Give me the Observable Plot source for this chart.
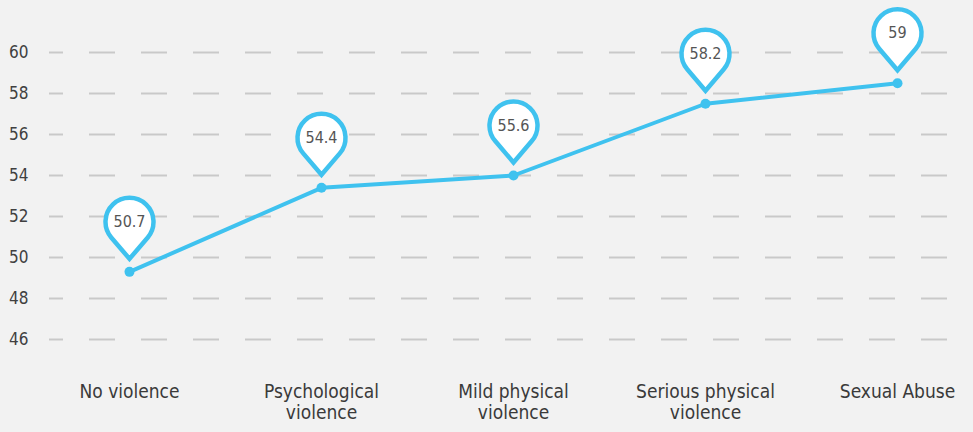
<!DOCTYPE html>
<html>
<head>
<meta charset="utf-8">
<script src="https://cdn.jsdelivr.net/npm/d3@7"></script>
<script src="https://cdn.jsdelivr.net/npm/@observablehq/plot@0.6"></script>
<style>
  html, body { margin: 0; padding: 0; background: #f2f2f2; }
  #chart svg { display: block; }
</style>
</head>
<body>
<div id="chart"></div>
<script>
const categories = ["No violence", "Psychological violence", "Mild physical violence", "Serious physical violence", "Sexual Abuse"];
const tickLabels = ["No violence", "Psychological\nviolence", "Mild physical\nviolence", "Serious physical\nviolence", "Sexual Abuse"];
const values = [49.3, 53.4, 54.0, 57.5, 58.5];
const pinLabels = ["50.7", "54.4", "55.6", "58.2", "59"];
const yTicks = [46, 48, 50, 52, 54, 56, 58, 60];

const data = categories.map((c, i) => ({category: c, value: values[i], label: pinLabels[i]}));

const FONT = '"Liberation Sans Narrow", "DejaVu Sans Condensed", "Roboto", sans-serif';
const BLUE = "#3fc2ef";

// teardrop pin symbol, anchored at its tip below the circle
const pin = {
  draw(context) {
    const R = 24, cy = -50, tipY = -13;
    const d = tipY - cy;
    const phi = Math.acos(R / d);
    const a0 = Math.PI / 2 - phi;
    const a1 = Math.PI / 2 + phi;
    context.moveTo(0, tipY);
    context.lineTo(R * Math.cos(a0), cy + R * Math.sin(a0));
    context.arc(0, cy, R, a0, a1, true);
    context.closePath();
  }
};

const chart = Plot.plot({
  width: 973,
  height: 432,
  marginLeft: 49,
  marginRight: 13,
  marginTop: 52,
  marginBottom: 93,
  style: {background: "#f2f2f2", fontFamily: FONT, color: "#404040", overflow: "visible", fontStretch: "condensed"},
  x: {type: "point", domain: categories, range: [129, 897], padding: 0, label: null},
  y: {domain: [46, 60], label: null},
  marks: [
    Plot.ruleY(yTicks, {stroke: "#c9c9c9", strokeWidth: 2, strokeDasharray: "26,26", strokeDashoffset: 12}),
    Plot.axisY(yTicks, {tickSize: 0, tickPadding: 21, fontSize: 17, fill: "#404040", label: null}),
    Plot.axisX(categories, {tickSize: 0, tickPadding: 43, fontSize: 19, fill: "#3a3a3a", lineHeight: 1.12,
      tickFormat: (d) => tickLabels[categories.indexOf(d)], label: null}),
    Plot.line(data, {x: "category", y: "value", stroke: BLUE, strokeWidth: 4}),
    Plot.dot(data, {x: "category", y: "value", r: 5, fill: BLUE}),
    Plot.dot(data, {x: "category", y: "value", symbol: pin, r: 24, fill: "white", stroke: BLUE, strokeWidth: 4.5}),
    Plot.text(data, {x: "category", y: "value", text: "label", dy: -50, fontSize: 16, fill: "#555555"})
  ]
});
document.getElementById("chart").appendChild(chart);
</script>
</body>
</html>
